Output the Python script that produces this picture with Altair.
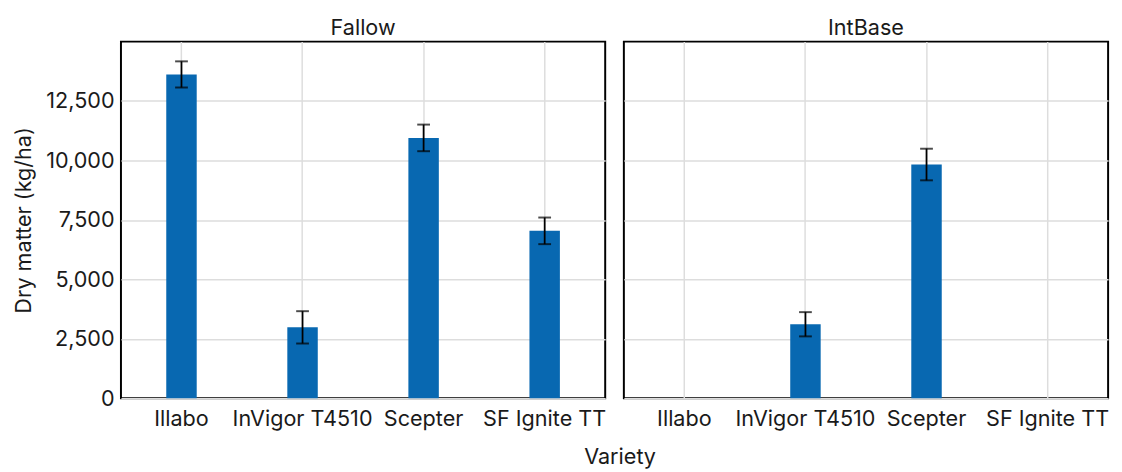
import altair as alt
import pandas as pd

varieties = ["Illabo", "InVigor T4510", "Scepter", "SF Ignite TT"]
treatments = ["Fallow", "IntBase"]

row_treatment = ["Fallow", "Fallow", "Fallow", "Fallow", "IntBase", "IntBase"]
row_variety = ["Illabo", "InVigor T4510", "Scepter", "SF Ignite TT", "InVigor T4510", "Scepter"]
row_mean = [13620, 2980, 10950, 7040, 3110, 9830]
row_err = [550, 680, 560, 560, 510, 665]

df = pd.DataFrame({
    "Treatment": row_treatment,
    "Variety": row_variety,
    "mean": row_mean,
    "err": row_err,
})
df["lo"] = df["mean"] - df["err"]
df["hi"] = df["mean"] + df["err"]

FONT = "Inter"
TXT = "#1a1a1a"
FS = 22

x_axis = alt.Axis(title=None, labelAngle=0, grid=True, bandPosition=0.5, labelPadding=10)
y_axis = alt.Axis(title="Dry matter (kg/ha)", values=[0, 2500, 5000, 7500, 10000, 12500],
                  format=",.0f")
x_scale = alt.Scale(domain=varieties, paddingInner=0, paddingOuter=0)
y_scale = alt.Scale(domain=[0, 15000], nice=False)

X = alt.X("Variety:N", sort=varieties, scale=x_scale, axis=x_axis)

bars = alt.Chart().mark_bar(color="#0868B1", size=31).encode(
    x=X,
    y=alt.Y("mean:Q", scale=y_scale, axis=y_axis),
)

stems = alt.Chart().mark_rule(color="black", strokeWidth=1.8).encode(
    x=X,
    y=alt.Y("lo:Q", scale=y_scale, axis=y_axis),
    y2="hi:Q",
)

cap_lo = alt.Chart().mark_tick(color="black", thickness=2, size=13, orient="horizontal").encode(
    x=X,
    y=alt.Y("lo:Q", scale=y_scale, axis=y_axis),
)

cap_hi = alt.Chart().mark_tick(color="black", thickness=2, size=13, orient="horizontal").encode(
    x=X,
    y=alt.Y("hi:Q", scale=y_scale, axis=y_axis),
)

chart = alt.layer(bars, stems, cap_lo, cap_hi, data=df).properties(
    width=493, height=363
).facet(
    column=alt.Column("Treatment:N", sort=treatments,
                      header=alt.Header(title=None, labelFontSize=FS, labelColor=TXT,
                                        labelPadding=1, labelFont=FONT)),
    spacing=17,
).properties(
    title=alt.TitleParams("Variety", orient="bottom", anchor="middle", fontSize=FS,
                          fontWeight="normal", color=TXT, font=FONT, offset=18, dx=60)
).configure_view(
    stroke="black", strokeWidth=2
).configure_axis(
    labelFont=FONT, titleFont=FONT, labelFontSize=FS, titleFontSize=FS,
    titleFontWeight="normal", labelColor=TXT, titleColor=TXT, ticks=False,
    domain=False, gridColor="#dddddd", gridWidth=1.5, labelPadding=6, titlePadding=10
)

chart.save("out.html", embed_options={"renderer": "svg", "actions": False})
